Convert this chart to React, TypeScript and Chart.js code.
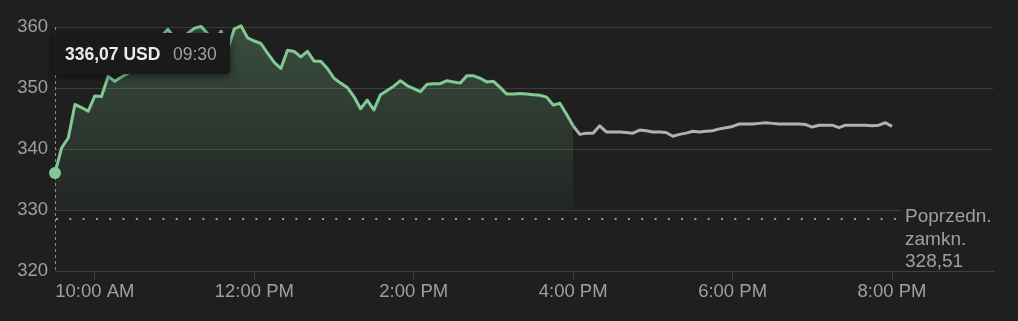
import { useEffect, useRef } from "react";
import { Chart, registerables } from "chart.js";

Chart.register(...registerables);

// ---- data ----
const START_MINUTE = 570; // 09:30
const STEP_MINUTES = 5;
const AXIS_END_MINUTE = 1276;
const PREV_CLOSE = 328.51;
const CURRENCY = "USD";
const START_LABEL = "09:30";

// 09:30 .. 16:00, every 5 minutes
const regularPrices = [
  336.07, 340.2, 341.8, 347.3, 346.8, 346.2, 348.7, 348.6, 351.9, 351.1,
  351.8, 352.4, 353.5, 354.8, 356.0, 357.5, 358.5, 359.6, 358.3, 358.0,
  359.0, 359.8, 360.1, 358.9, 357.8, 359.3, 356.3, 359.7, 360.2, 358.2,
  357.7, 357.3, 355.7, 354.2, 353.2, 356.2, 356.0, 355.1, 356.0, 354.4,
  354.4, 353.2, 351.6, 350.8, 350.1, 348.6, 346.6, 348.0, 346.4, 348.9,
  349.6, 350.3, 351.2, 350.4, 349.9, 349.4, 350.6, 350.7, 350.7, 351.2,
  351.0, 350.8, 352.0, 352.0, 351.6, 351.0, 351.1, 350.1, 349.0, 349.0,
  349.1, 349.0, 348.9, 348.8, 348.5, 347.2, 347.5, 345.7, 343.8,
];

// 16:05 .. 20:00, every 5 minutes
const afterHoursPrices = [
  342.4, 342.6, 342.6, 343.8, 342.8, 342.8, 342.8, 342.7, 342.6,
  343.1, 343.0, 342.8, 342.8, 342.7, 342.1, 342.4, 342.6, 342.9, 342.8,
  342.9, 343.0, 343.3, 343.5, 343.7, 344.1, 344.1, 344.1, 344.2, 344.3,
  344.2, 344.1, 344.1, 344.1, 344.1, 344.0, 343.6, 343.9, 343.9, 343.9,
  343.5, 343.9, 343.9, 343.9, 343.9, 343.8, 343.9, 344.3, 343.7,
];

const xTickMinutes = [600, 720, 840, 960, 1080, 1200];
const xTickLabels = ["10:00 AM", "12:00 PM", "2:00 PM", "4:00 PM", "6:00 PM", "8:00 PM"];
const yTickValues = [320, 330, 340, 350, 360];
const prevCloseLabel = ["Poprzedn.", "zamkn."];

// ---- styles ----
const BG = "#1f1f1f";
const GRID = "#3e3e3e";
const TEXT = "#9aa0a6";
const GREEN = "#81c995";
const GRAY = "#aeb1b6";
const FONT = "'Liberation Sans', Arial, sans-serif";

const fmt = (v: number) => v.toFixed(2).replace(".", ",");

const regularData = regularPrices.map((p, i) => ({ x: START_MINUTE + i * STEP_MINUTES, y: p }));
const lastRegular = regularData[regularData.length - 1];
const afterData = [
  lastRegular,
  ...afterHoursPrices.map((p, i) => ({ x: lastRegular.x + (i + 1) * STEP_MINUTES, y: p })),
];
const lastMinute = afterData[afterData.length - 1].x;

const overlayPlugin = {
  id: "overlay",
  beforeDatasetsDraw(chart: any) {
    const { ctx, chartArea, scales } = chart;
    const x = scales.x;
    const y = scales.y;
    ctx.save();
    // hover crosshair
    const cx = Math.round(x.getPixelForValue(START_MINUTE)) + 0.5;
    ctx.strokeStyle = "#8a8a8a";
    ctx.lineWidth = 1;
    ctx.setLineDash([3, 3]);
    ctx.beginPath();
    ctx.moveTo(cx, chartArea.top);
    ctx.lineTo(cx, chartArea.bottom);
    ctx.stroke();
    // previous close dotted line
    const py = Math.round(y.getPixelForValue(PREV_CLOSE));
    ctx.strokeStyle = "#9a9a9a";
    ctx.lineWidth = 2;
    ctx.setLineDash([2, 11.3]);
    ctx.beginPath();
    ctx.moveTo(chartArea.left + 1, py);
    ctx.lineTo(x.getPixelForValue(lastMinute) + 4, py);
    ctx.stroke();
    ctx.restore();
  },
  afterDraw(chart: any) {
    const { ctx, chartArea, scales } = chart;
    const x = scales.x;
    const y = scales.y;
    ctx.save();
    // previous close label
    const py = Math.round(y.getPixelForValue(PREV_CLOSE));
    const lx = x.getPixelForValue(lastMinute) + 13;
    ctx.fillStyle = BG;
    ctx.fillRect(lx - 4, py - 17, chartArea.right - lx + 6, chartArea.bottom - (py - 17) - 1);
    ctx.fillStyle = TEXT;
    ctx.font = `19px ${FONT}`;
    ctx.textAlign = "left";
    ctx.textBaseline = "alphabetic";
    const lines = [...prevCloseLabel, fmt(PREV_CLOSE)];
    lines.forEach((t, i) => ctx.fillText(t, lx, py + 3 + i * 22.5));

    // tooltip
    const cx = x.getPixelForValue(START_MINUTE);
    const bx = cx - 2;
    const by = chartArea.top + 6;
    const bw = 177;
    const bh = 41;
    ctx.shadowColor = "rgba(0,0,0,0.55)";
    ctx.shadowBlur = 10;
    ctx.shadowOffsetY = 2;
    ctx.fillStyle = "#1a1a1a";
    ctx.beginPath();
    (ctx as any).roundRect(bx, by, bw, bh, 4);
    ctx.fill();
    ctx.shadowColor = "transparent";
    ctx.shadowBlur = 0;
    ctx.shadowOffsetY = 0;
    ctx.fillStyle = "#e8eaed";
    ctx.font = `bold 17.5px ${FONT}`;
    ctx.fillText(`${fmt(regularPrices[0])} ${CURRENCY}`, bx + 12, by + 27);
    ctx.fillStyle = TEXT;
    ctx.font = `17.5px ${FONT}`;
    ctx.fillText(START_LABEL, bx + 120, by + 27);
    ctx.restore();
  },
};

export default function App() {
  const ref = useRef<HTMLCanvasElement | null>(null);

  useEffect(() => {
    if (!ref.current) return;
    Chart.defaults.font.family = FONT;
    const chart = new Chart(ref.current, {
      type: "line",
      data: {
        datasets: [
          {
            data: regularData,
            borderColor: GREEN,
            borderWidth: 3,
            borderJoinStyle: "round",
            tension: 0,
            pointRadius: regularData.map((_, i) => (i === 0 ? 6 : 0)),
            pointBackgroundColor: GREEN,
            pointBorderWidth: 0,
            fill: { value: 330 },
            backgroundColor: (c: any) => {
              const { chart: ch } = c;
              const area = ch.chartArea;
              if (!area) return "rgba(129,201,149,0.15)";
              const bottom = ch.scales.y.getPixelForValue(330);
              const g = ch.ctx.createLinearGradient(0, area.top, 0, bottom);
              g.addColorStop(0, "rgba(129,201,149,0.28)");
              g.addColorStop(1, "rgba(129,201,149,0.04)");
              return g;
            },
            clip: false as any,
            order: 1,
          },
          {
            data: afterData,
            borderColor: GRAY,
            borderWidth: 3,
            borderJoinStyle: "round",
            tension: 0,
            pointRadius: 0,
            fill: false,
            clip: false as any,
            order: 2,
          },
        ],
      },
      options: {
        animation: false,
        responsive: false,
        events: [],
        layout: { padding: { top: 27, right: 25, left: 0, bottom: 0 } },
        plugins: { legend: { display: false }, tooltip: { enabled: false } },
        scales: {
          x: {
            type: "linear",
            min: START_MINUTE,
            max: AXIS_END_MINUTE,
            afterBuildTicks: (s: any) => {
              s.ticks = xTickMinutes.map((v) => ({ value: v }));
            },
            afterFit: (s: any) => {
              s.height = 50;
            },
            ticks: {
              autoSkip: false,
              maxRotation: 0,
              color: TEXT,
              font: { size: 18.5, family: FONT },
              padding: 1,
              callback: (v: any) => {
                const i = xTickMinutes.indexOf(Number(v));
                return i >= 0 ? xTickLabels[i] : "";
              },
            },
            grid: { drawOnChartArea: false, drawTicks: true, tickLength: 9, color: GRID },
            border: { display: true, color: GRID },
          },
          y: {
            min: 320,
            max: 360,
            afterBuildTicks: (s: any) => {
              s.ticks = yTickValues.map((v) => ({ value: v }));
            },
            afterFit: (s: any) => {
              s.width = 55;
            },
            ticks: {
              color: TEXT,
              font: { size: 18.5, family: FONT },
              padding: 7,
            },
            grid: { color: GRID, drawTicks: false },
            border: { display: false },
          },
        },
      },
      plugins: [overlayPlugin],
    });
    return () => chart.destroy();
  }, []);

  return (
    <div style={{ position: "fixed", left: 0, top: 0, width: 1018, height: 321, background: BG }}>
      <canvas ref={ref} width={1018} height={321} style={{ display: "block" }} />
    </div>
  );
}
